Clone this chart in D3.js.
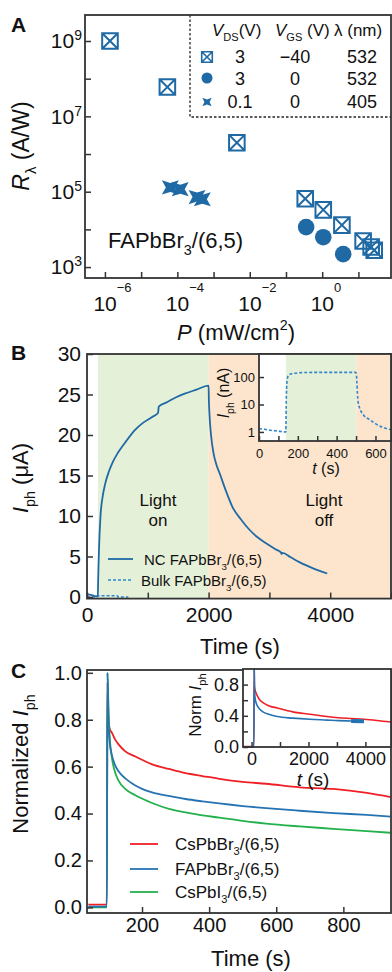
<!DOCTYPE html>
<html>
<head>
<meta charset="utf-8">
<script src="https://cdn.jsdelivr.net/npm/d3@7"></script>
<style>
  body { margin: 0; background: #fff; }
  svg { display: block; font-family: "Liberation Sans", Arial, Helvetica, sans-serif; }
</style>
</head>
<body>
<div id="chart"></div>
<script>
// ---------- panel A: responsivity vs power ----------
const sqP   = [1.38e-6, 5.3e-5, 4.4e-3, 0.34, 1.07, 3.5, 13.5, 22.5, 27.3];
const sqR   = [1e9, 6.0e7, 2.0e6, 6.5e4, 3.3e4, 1.3e4, 4.9e3, 3.4e3, 2.8e3];
const dotP  = [0.36, 1.07, 3.8];
const dotR  = [1.15e4, 6.2e3, 2.2e3];
const starP = [6.4e-5, 1.2e-4, 3.5e-4, 4.9e-4];
const starR = [1.3e5, 1.17e5, 7.2e4, 6.3e4];
const legendRowsA = [['3', '\u221240', '532'], ['3', '0', '532'], ['0.1', '0', '405']];

// ---------- panel B: photocurrent vs time ----------
const tNC = [0, 60, 120, 178, 183, 190, 197, 222, 260, 300, 360, 420, 508, 650, 787, 920, 1066, 1170, 1180, 1300,
             1450, 1607, 1800, 2000, 2004, 2015, 2040, 2080, 2130, 2180, 2290, 2393, 2530, 2672, 2800, 2951, 3100,
             3190, 3200, 3215, 3350, 3492, 3700, 3951];
const iNC = [0.35, 0.25, 0.12, 0.05, 2, 4, 5.8, 10, 12.5, 14.0, 15.5, 16.6, 17.8, 19.3, 20.6, 21.5, 22.2, 22.75, 23.5, 24.0,
             24.6, 25.1, 25.6, 26.1, 24.5, 22.5, 20.0, 17.8, 16.3, 15.3, 13.0, 11.1, 9.6, 8.3, 7.4, 6.6, 5.9,
             5.5, 5.3, 5.45, 4.9, 4.3, 3.6, 2.9];
const tBulk = [0, 30, 60, 100, 135, 138, 141, 145, 152, 165, 185, 220, 300, 400, 497, 501, 504, 507, 511, 520,
               540, 570, 600, 640, 680];
const iBulk = [1.3, 1.25, 1.15, 1.08, 1.0, 1.0, 20, 80, 115, 130, 138, 145, 148, 148, 148, 140, 70, 25, 12, 7,
               4.0, 2.8, 2.0, 1.45, 1.2]; // nA
const lightMain = [180, 2000];   // light on / off times (s)
const lightInset = [138, 502];

// ---------- panel C: normalized photocurrent ----------
const tC = [40, 95, 97, 100, 104, 110, 120, 130, 150, 180, 230, 280, 330, 380, 430, 500, 570, 670, 770, 870, 942];
const cRed   = [0.012, 0.012, 0.96, 0.79, 0.76, 0.745, 0.715, 0.695, 0.665, 0.643, 0.61, 0.59, 0.572, 0.56, 0.548, 0.535, 0.527, 0.512, 0.505, 0.488, 0.47];
const cBlue  = [0.003, 0.003, 1.0, 0.8, 0.70, 0.65, 0.605, 0.58, 0.55, 0.52, 0.49, 0.475, 0.462, 0.452, 0.443, 0.432, 0.423, 0.412, 0.402, 0.394, 0.387];
const cGreen = [0, 0, 1.0, 0.85, 0.72, 0.64, 0.575, 0.54, 0.505, 0.478, 0.445, 0.42, 0.405, 0.392, 0.383, 0.369, 0.357, 0.345, 0.335, 0.325, 0.318];
const tCin = [-300, 80, 95, 100, 110, 150, 200, 300, 400, 600, 900, 1450, 2050, 2650, 3050, 3500, 3950, 4400, 4900];
const cRedIn  = [0.005, 0.005, 1.0, 0.85, 0.76, 0.70, 0.66, 0.60, 0.57, 0.53, 0.50, 0.45, 0.42, 0.39, 0.375, 0.365, 0.355, 0.34, 0.32];
const cBlueIn = [0, 0, 1.0, 0.78, 0.68, 0.58, 0.53, 0.48, 0.45, 0.42, 0.39, 0.37, 0.355, 0.345, 0.338, 0.334, 0.33, null, null];
const seriesC = ['CsPbBr3', 'FAPbBr3', 'CsPbI3'];

const INK = '#333';
const BLUE = '#1f6aa5';
const RED = '#ee2026';
const CBLUE = '#2673b3';
const GREEN = '#22b14c';
const BG_ON = '#e5f0d8';
const BG_OFF = '#fce5cc';

const svg = d3.select('#chart').append('svg').attr('width', 392).attr('height', 972);

const frame = (x0, y0, x1, y1) => svg.append('rect')
  .attr('x', x0).attr('y', y0).attr('width', x1 - x0).attr('height', y1 - y0)
  .attr('fill', 'none').attr('stroke', INK).attr('stroke-width', 1.8);

const styleAxis = (g, size) => {
  g.select('.domain').remove();
  g.selectAll('line').attr('stroke', INK).attr('stroke-width', 1.5);
  g.selectAll('text').attr('fill', '#111').style('font-size', `${size}px`)
    .style('font-family', '"Liberation Sans", Arial, sans-serif');
};

// text built from parts: [text, opts]
const rich = (g, x, y, parts, size, anchor = 'start', rotate = false) => {
  const t = g.append('text').attr('x', x).attr('y', y).attr('text-anchor', anchor)
    .style('font-size', `${size}px`).attr('fill', '#111');
  if (rotate) t.attr('transform', `rotate(-90,${x},${y})`);
  let shift = 0;
  parts.forEach(([s, o = {}]) => {
    const sp = t.append('tspan').text(s);
    const want = o.sub ? size * 0.3 : o.sup ? -size * 0.45 : 0;
    if (want !== shift) { sp.attr('dy', want - shift); shift = want; }
    if (o.sub || o.sup) sp.style('font-size', `${size * 0.65}px`);
    if (o.it) sp.style('font-style', 'italic');
  });
  return t;
};

const panelLabel = (s, x, y) => svg.append('text').attr('x', x).attr('y', y)
  .style('font-size', '21px').style('font-weight', 'bold').attr('fill', '#111').text(s);

// ================= PANEL A =================
const xA = d3.scaleLog().domain([10 ** -6.55, 10 ** 1.9]).range([85, 391]);
const yA = d3.scaleLog().domain([10 ** 2.71, 10 ** 9.69]).range([278, 15]);

svg.append('clipPath').attr('id', 'clipA').append('rect')
  .attr('x', 85).attr('y', 15).attr('width', 306).attr('height', 263);

const gAx = svg.append('g').attr('transform', 'translate(0,278)')
  .call(d3.axisBottom(xA).tickValues(d3.range(-6, 2).map(e => 10 ** e))
    .tickSizeInner(-6).tickSizeOuter(0).tickPadding(18).tickFormat(() => ''));
styleAxis(gAx, 21);
gAx.selectAll('.tick text').each(function (d) {
  const e = Math.round(Math.log10(d));
  if (e % 2 !== 0) return;
  const t = d3.select(this).attr('text-anchor', 'start').attr('x', -12);
  t.append('tspan').text('10');
  t.append('tspan').attr('dy', -19).style('font-size', '13px').text(e < 0 ? '\u2212' + (-e) : e);
});

const gAy = svg.append('g').attr('transform', 'translate(85,0)')
  .call(d3.axisLeft(yA).tickValues(d3.range(3, 10).map(e => 10 ** e))
    .tickSizeInner(-6).tickSizeOuter(0).tickPadding(3).tickFormat(() => ''));
styleAxis(gAy, 21);
gAy.selectAll('.tick text').each(function (d) {
  const e = Math.round(Math.log10(d));
  if (e % 2 !== 1) return;
  const t = d3.select(this);
  t.append('tspan').text('10');
  t.append('tspan').attr('dy', -8).style('font-size', '14px').text(e);
});

// legend box (dashed)
svg.append('path')
  .attr('d', 'M190,15 V117 H391')
  .attr('fill', 'none').attr('stroke', '#222').attr('stroke-width', 1.3).attr('stroke-dasharray', '2.5,2');

const gA = svg.append('g').attr('clip-path', 'url(#clipA)');
const sqPath = s => `M${-s},${-s}h${2 * s}v${2 * s}h${-2 * s}zM${-s},${-s}L${s},${s}M${s},${-s}L${-s},${s}`;
const starPath = (rx, ry, r) => {
  const pts = [];
  for (let i = 0; i < 8; i++) {
    const a = i * Math.PI / 4 + Math.PI / 4;
    const outer = i % 2 === 0;
    pts.push([Math.cos(a) * (outer ? rx : r), Math.sin(a) * (outer ? ry : r)]);
  }
  return 'M' + pts.map(p => p.join(',')).join('L') + 'Z';
};

gA.selectAll('.sq').data(sqP).join('path')
  .attr('transform', (d, i) => `translate(${xA(d)},${yA(sqR[i])})`)
  .attr('d', sqPath(7.8)).attr('fill', 'none').attr('stroke', BLUE).attr('stroke-width', 2);
gA.selectAll('.dot').data(dotP).join('circle')
  .attr('cx', d => xA(d)).attr('cy', (d, i) => yA(dotR[i])).attr('r', 8.3).attr('fill', BLUE);
gA.selectAll('.star').data(starP).join('path')
  .attr('transform', (d, i) => `translate(${xA(d)},${yA(starR[i])})`)
  .attr('d', starPath(12, 10, 4.5)).attr('fill', BLUE);

// legend content
const gL = svg.append('g');
rich(gL, 212, 36, [['V', { it: true }], ['DS', { sub: true }], ['(V)']], 17);
rich(gL, 275, 36, [['V', { it: true }], ['GS', { sub: true }], [' (V)']], 17);
rich(gL, 334, 36, [['\u03bb (nm)']], 17);
const rowY = [63, 85, 108];
legendRowsA.forEach((row, i) => {
  [240, 295, 362].forEach((cx, j) => gL.append('text').attr('x', cx).attr('y', rowY[i])
    .attr('text-anchor', 'middle').style('font-size', '18px').attr('fill', '#111').text(row[j]));
});
gL.append('path').attr('transform', `translate(207,${rowY[0] - 6})`).attr('d', sqPath(5.3))
  .attr('fill', 'none').attr('stroke', BLUE).attr('stroke-width', 1.6);
gL.append('circle').attr('cx', 207).attr('cy', rowY[1] - 7).attr('r', 5.5).attr('fill', BLUE);
gL.append('path').attr('transform', `translate(207,${rowY[2] - 6})`).attr('d', starPath(6.5, 6, 2.6)).attr('fill', BLUE);

rich(svg, 108, 248, [['FAPbBr'], ['3', { sub: true }], ['/(6,5)']], 22);
frame(85, 15, 391, 278);
rich(svg, 29, 146, [['R', { it: true }], ['\u03bb', { sub: true }], [' (A/W)']], 23, 'middle', true);
rich(svg, 236, 340, [['P', { it: true }], [' (mW/cm'], ['2', { sup: true }], [')']], 22, 'middle');
panelLabel('A', 11, 32);

// ================= PANEL B =================
const xB = d3.scaleLinear().domain([0, 5000]).range([87, 391]);
const yB = d3.scaleLinear().domain([-0.2, 30]).range([598.6, 354]);

svg.append('rect').attr('x', xB(lightMain[0])).attr('y', 354)
  .attr('width', xB(lightMain[1]) - xB(lightMain[0])).attr('height', 598.6 - 354).attr('fill', BG_ON);
svg.append('rect').attr('x', xB(lightMain[1])).attr('y', 354)
  .attr('width', 391 - xB(lightMain[1])).attr('height', 598.6 - 354).attr('fill', BG_OFF);

const lineB = d3.line().curve(d3.curveMonotoneX).x(d => xB(d[0])).y(d => yB(d[1]));
svg.append('path').datum(tBulk.map((t, i) => [t, iBulk[i] / 1000]))
  .attr('d', lineB).attr('fill', 'none').attr('stroke', '#2f86cc').attr('stroke-width', 1.6).attr('stroke-dasharray', '3,2');
svg.append('path').datum(tNC.map((t, i) => [t, iNC[i]]))
  .attr('d', lineB).attr('fill', 'none').attr('stroke', BLUE).attr('stroke-width', 1.8);

const gBx = svg.append('g').attr('transform', 'translate(0,598.6)')
  .call(d3.axisBottom(xB).tickValues(d3.range(0, 5001, 1000)).tickSizeInner(-6).tickSizeOuter(0)
    .tickPadding(8).tickFormat(d => d % 2000 === 0 && d < 5000 ? d : ''));
styleAxis(gBx, 21);
const gBy = svg.append('g').attr('transform', 'translate(87,0)')
  .call(d3.axisLeft(yB).tickValues(d3.range(0, 31, 5)).tickSizeInner(-6).tickSizeOuter(0).tickPadding(6));
styleAxis(gBy, 21);

// light on/off text
[['Light', 500], ['on', 520]].forEach(([s, y]) => svg.append('text').attr('x', 158).attr('y', y + 6)
  .attr('text-anchor', 'middle').style('font-size', '17px').attr('fill', '#111').text(s));
[['Light', 500], ['off', 520]].forEach(([s, y]) => svg.append('text').attr('x', 324).attr('y', y + 6)
  .attr('text-anchor', 'middle').style('font-size', '17px').attr('fill', '#111').text(s));

// legend B
svg.append('line').attr('x1', 108).attr('x2', 133).attr('y1', 559).attr('y2', 559)
  .attr('stroke', BLUE).attr('stroke-width', 1.8);
rich(svg, 144, 565, [['NC FAPbBr'], ['3', { sub: true }], ['/(6,5)']], 15);
svg.append('line').attr('x1', 108).attr('x2', 133).attr('y1', 580).attr('y2', 580)
  .attr('stroke', '#2f86cc').attr('stroke-width', 1.6).attr('stroke-dasharray', '3,2');
rich(svg, 141, 586, [['Bulk FAPbBr'], ['3', { sub: true }], ['/(6,5)']], 15);

frame(87, 354, 391, 598.6);

// inset B
const xBi = d3.scaleLinear().domain([0, 680]).range([259, 391]);
const yBi = d3.scaleLog().domain([10 ** -0.33, 10 ** 2.84]).range([441, 354]);
svg.append('rect').attr('x', 259).attr('y', 354).attr('width', 132).attr('height', 87).attr('fill', '#fff');
svg.append('rect').attr('x', xBi(lightInset[0])).attr('y', 354)
  .attr('width', xBi(lightInset[1]) - xBi(lightInset[0])).attr('height', 87).attr('fill', BG_ON);
svg.append('rect').attr('x', xBi(lightInset[1])).attr('y', 354)
  .attr('width', 391 - xBi(lightInset[1])).attr('height', 87).attr('fill', BG_OFF);
svg.append('path').datum(tBulk.map((t, i) => [t, iBulk[i]]))
  .attr('d', d3.line().curve(d3.curveMonotoneX).x(d => xBi(d[0])).y(d => yBi(d[1])))
  .attr('fill', 'none').attr('stroke', '#2f86cc').attr('stroke-width', 1.6).attr('stroke-dasharray', '3,2');
const gBix = svg.append('g').attr('transform', 'translate(0,441)')
  .call(d3.axisBottom(xBi).tickValues(d3.range(0, 601, 100)).tickSizeInner(-5).tickSizeOuter(0)
    .tickPadding(8).tickFormat(d => d % 200 === 0 ? d : ''));
styleAxis(gBix, 13);
const gBiy = svg.append('g').attr('transform', 'translate(259,0)')
  .call(d3.axisLeft(yBi).tickValues([1, 10, 100]).tickSizeInner(-5).tickSizeOuter(0).tickPadding(4)
    .tickFormat(d3.format('d')));
styleAxis(gBiy, 13);
frame(259, 354, 391, 441);
rich(svg, 229, 393, [['I', { it: true }], ['ph', { sub: true }], [' (nA)']], 16, 'middle', true);
rich(svg, 326, 474, [['t', { it: true }], [' (s)']], 16, 'middle');

rich(svg, 28, 478, [['I', { it: true }], ['ph', { sub: true }], [' (\u03bcA)']], 22, 'middle', true);
svg.append('text').attr('x', 240).attr('y', 654).attr('text-anchor', 'middle')
  .style('font-size', '22px').attr('fill', '#111').text('Time (s)');
panelLabel('B', 11, 360);

// ================= PANEL C =================
const xC = d3.scaleLinear().domain([36, 942]).range([87, 391]);
const yC = d3.scaleLinear().domain([-0.024, 1.012]).range([913, 670]);
const lineC = d3.line().curve(d3.curveMonotoneX).x(d => xC(d[0])).y(d => yC(d[1]));
[[cRed, RED], [cGreen, GREEN], [cBlue, CBLUE]].forEach(([vals, col]) => {
  svg.append('path').datum(tC.map((t, i) => [t, vals[i]])).attr('d', lineC)
    .attr('fill', 'none').attr('stroke', col).attr('stroke-width', 1.8);
});
const gCx = svg.append('g').attr('transform', 'translate(0,913)')
  .call(d3.axisBottom(xC).tickValues([200, 400, 600, 800]).tickSizeInner(-6).tickSizeOuter(0).tickPadding(5));
styleAxis(gCx, 20);
const gCy = svg.append('g').attr('transform', 'translate(87,0)')
  .call(d3.axisLeft(yC).tickValues(d3.range(0, 1.01, 0.2)).tickSizeInner(-6).tickSizeOuter(0).tickPadding(5)
    .tickFormat(d3.format('.1f')));
styleAxis(gCy, 20);

// legend C
[[RED, 844], [CBLUE, 869], [GREEN, 892]].forEach(([col, y], i) => {
  svg.append('line').attr('x1', 130).attr('x2', 158).attr('y1', y).attr('y2', y)
    .attr('stroke', col).attr('stroke-width', 1.8);
  const name = seriesC[i];
  rich(svg, 175, y + 6, [[name.slice(0, -1)], [name.slice(-1), { sub: true }], ['/(6,5)']], 17);
});
frame(87, 670, 391, 913);

// inset C
const xCi = d3.scaleLinear().domain([-300, 4900]).range([243, 391]);
const yCi = d3.scaleLinear().domain([0, 1]).range([747, 669]);
svg.append('rect').attr('x', 243).attr('y', 669).attr('width', 148).attr('height', 78).attr('fill', '#fff');
const lineCi = d3.line().defined(d => d[1] !== null).curve(d3.curveMonotoneX).x(d => xCi(d[0])).y(d => yCi(d[1]));
svg.append('path').datum(tCin.map((t, i) => [t, cRedIn[i]])).attr('d', lineCi)
  .attr('fill', 'none').attr('stroke', RED).attr('stroke-width', 1.6);
svg.append('path').datum(tCin.map((t, i) => [t, cBlueIn[i]])).attr('d', lineCi)
  .attr('fill', 'none').attr('stroke', CBLUE).attr('stroke-width', 1.6);
svg.append('path').datum(tCin.map((t, i) => [t, cBlueIn[i]]).filter(d => d[0] >= 3500 && d[1] !== null))
  .attr('d', lineCi).attr('fill', 'none').attr('stroke', CBLUE).attr('stroke-width', 4);
const gCix = svg.append('g').attr('transform', 'translate(0,747)')
  .call(d3.axisBottom(xCi).tickValues([0, 1000, 2000, 3000, 4000]).tickSizeInner(-5).tickSizeOuter(0)
    .tickPadding(5).tickFormat(d => d % 2000 === 0 ? d : ''));
styleAxis(gCix, 18);
const gCiy = svg.append('g').attr('transform', 'translate(243,0)')
  .call(d3.axisLeft(yCi).tickValues([0, 0.2, 0.4, 0.6, 0.8]).tickSizeInner(-5).tickSizeOuter(0).tickPadding(4)
    .tickFormat(d => Math.round(d * 10) % 4 === 0 ? d3.format('.1f')(d) : ''));
styleAxis(gCiy, 18);
frame(243, 669, 391, 747);
rich(svg, 201, 705, [['Norm '], ['I', { it: true }], ['ph', { sub: true }]], 17, 'middle', true);
rich(svg, 313, 786, [['t', { it: true }], [' (s)']], 19, 'middle');

rich(svg, 28, 764, [['Normalized '], ['I', { it: true }], ['ph', { sub: true }]], 22, 'middle', true);
svg.append('text').attr('x', 251).attr('y', 966).attr('text-anchor', 'middle')
  .style('font-size', '22px').attr('fill', '#111').text('Time (s)');
panelLabel('C', 11, 678);
</script>
</body>
</html>
